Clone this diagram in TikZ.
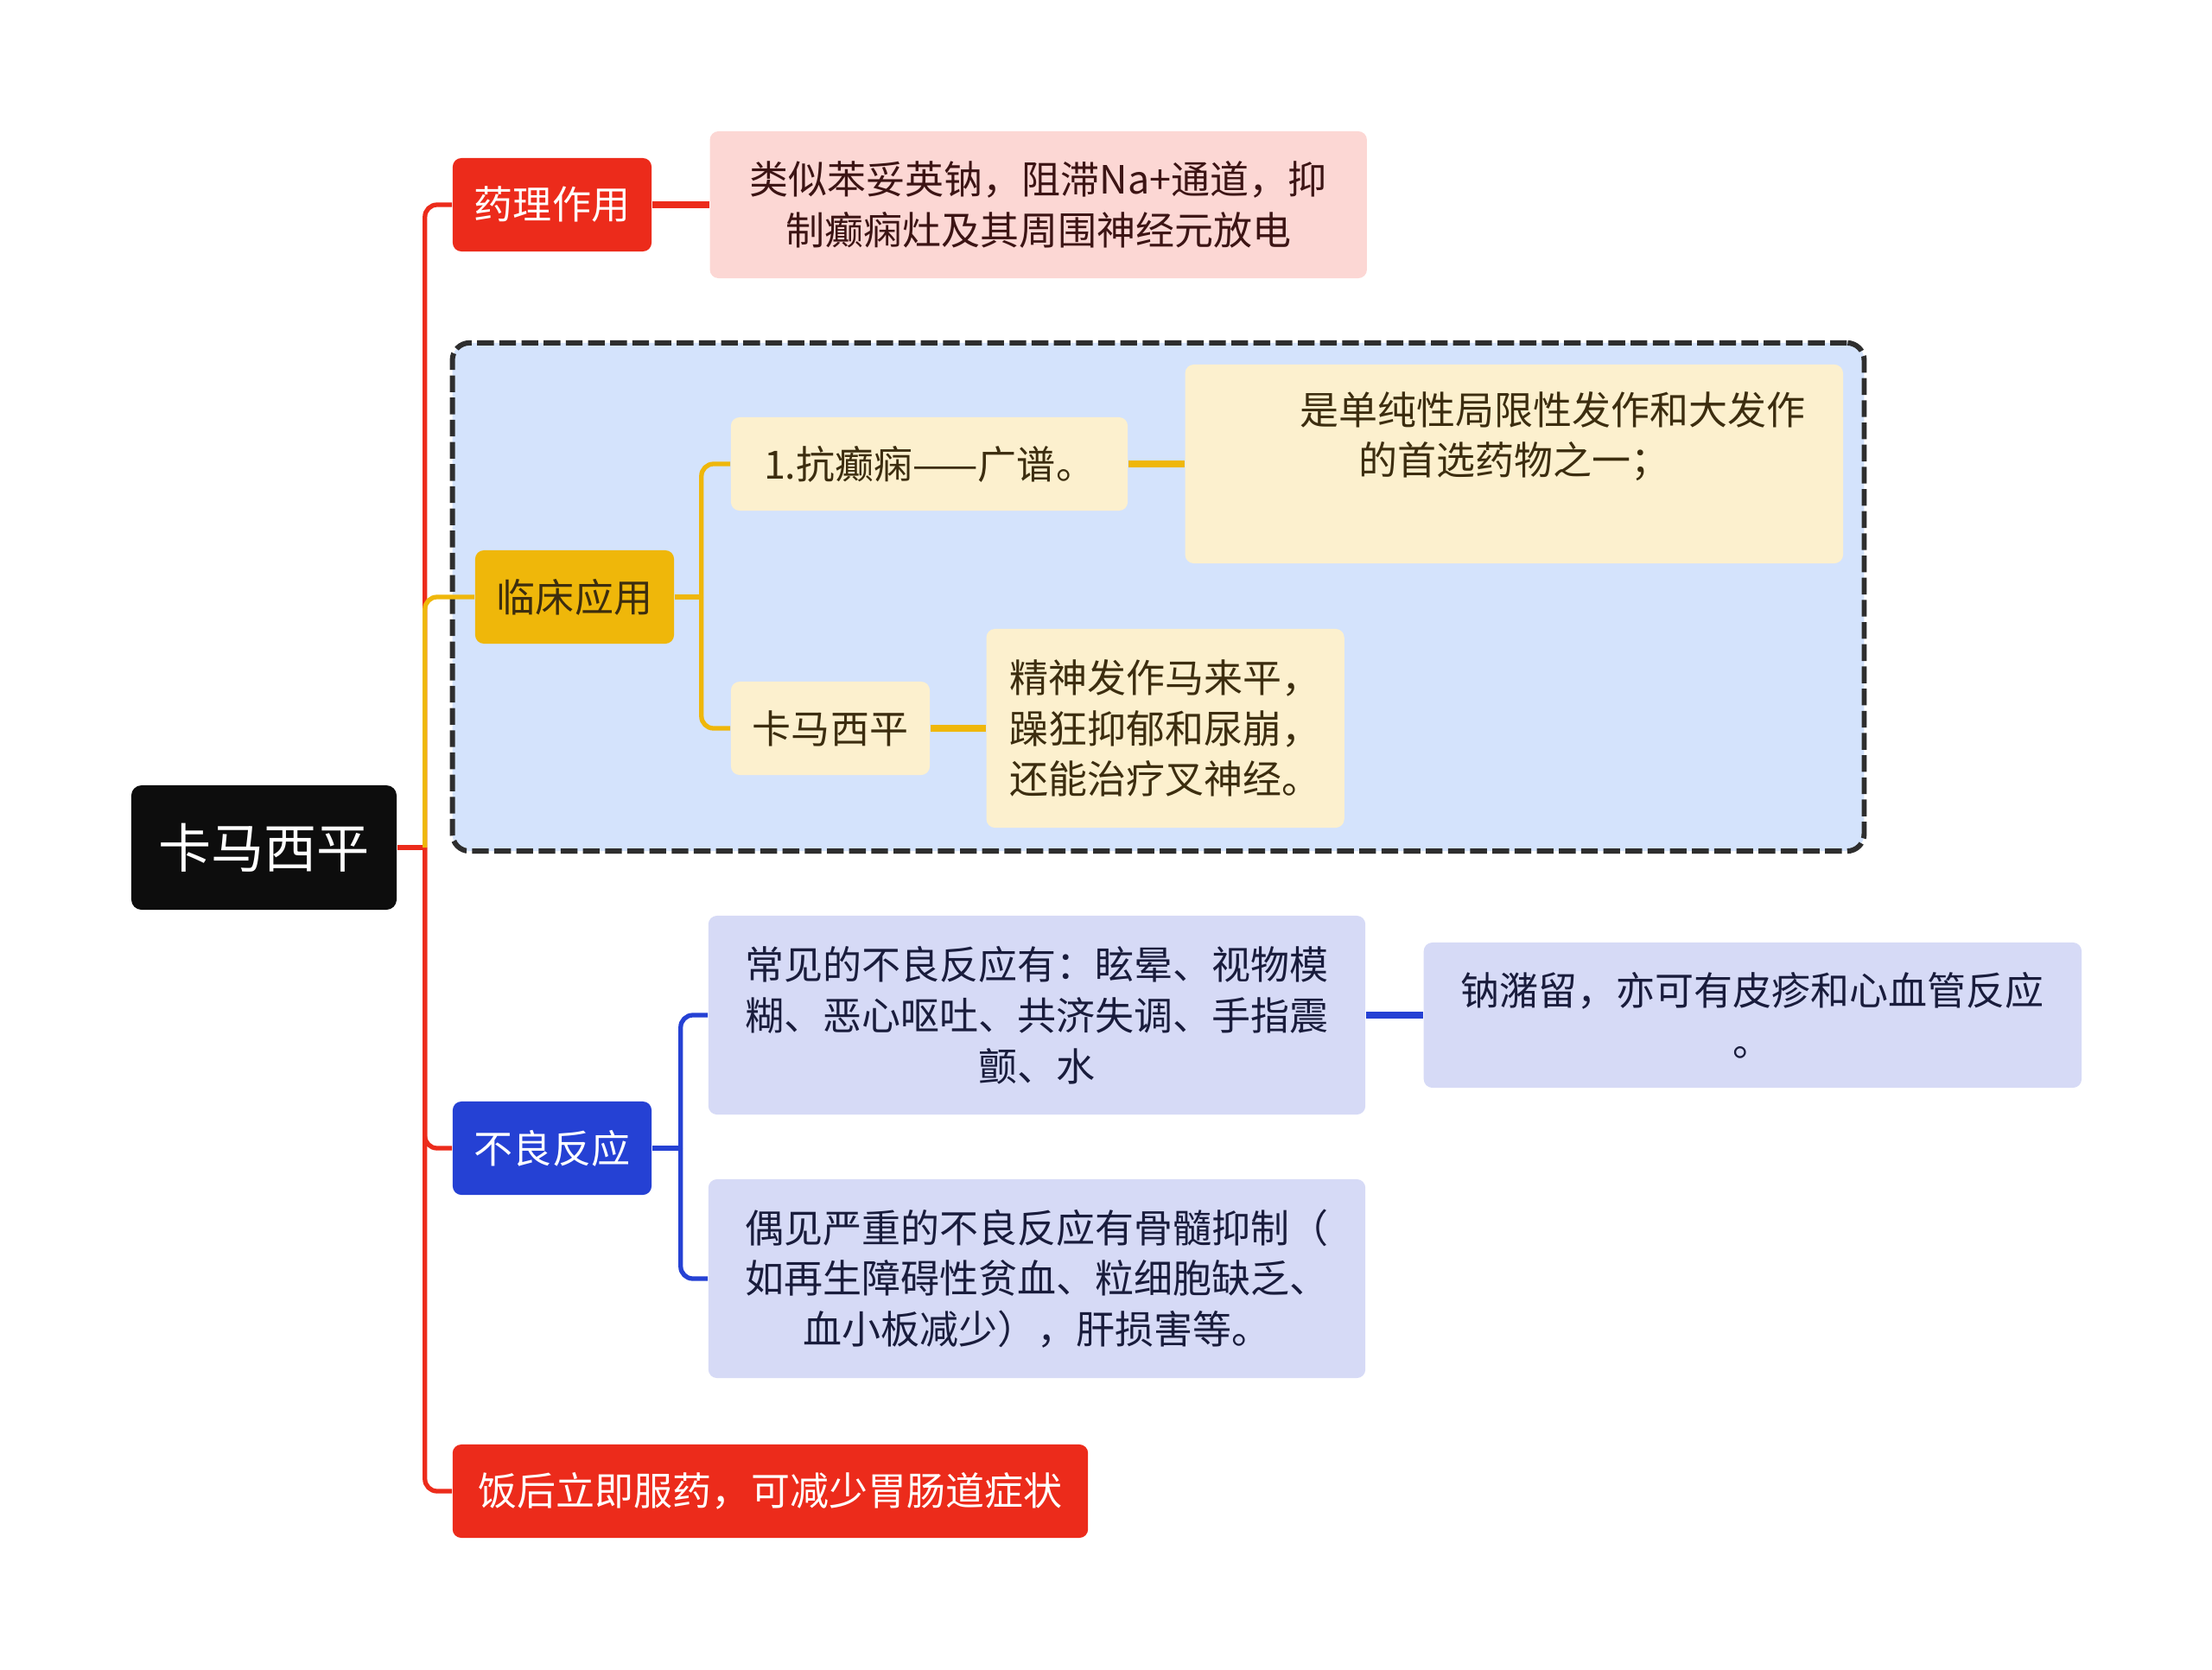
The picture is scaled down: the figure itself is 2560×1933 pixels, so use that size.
\documentclass[tikz,border=0pt]{standalone}
\usepackage{fontspec}
\setmainfont{Noto Sans CJK SC}
\definecolor{mapRed}{RGB}{236,43,27}
\definecolor{mapPink}{RGB}{252,215,212}
\definecolor{mapYellow}{RGB}{239,183,10}
\definecolor{mapCream}{RGB}{252,240,206}
\definecolor{mapBlue}{RGB}{37,65,212}
\definecolor{mapLavender}{RGB}{214,218,246}
\definecolor{groupFill}{RGB}{212,227,252}
\definecolor{rootBlack}{RGB}{13,13,13}
\definecolor{pinkText}{RGB}{60,20,20}
\definecolor{creamText}{RGB}{60,45,15}
\definecolor{lavText}{RGB}{25,28,60}
\usetikzlibrary{calc,positioning}

\begin{document}
\begin{tikzpicture}[x=0.01cm,y=-0.01cm,
          bodyFont/.style={font={\fontsize{12.8}{16.7}\selectfont}},
          rootNode/.style={
            rectangle,
            rounded corners=.12cm,
            fill=rootBlack,
            text=white,
            font={\fontsize{17.4}{21}\selectfont},
            minimum width=3.07cm,
            minimum height=1.44cm},
          topic/.style={
            rectangle,
            rounded corners=.1cm,
            bodyFont,
            align=center,
            minimum height=1.08cm},
          redTopic/.style={topic, fill=mapRed, text=white, minimum width=2.3cm},
          yellowTopic/.style={topic, fill=mapYellow, text=creamText, minimum width=2.3cm},
          blueTopic/.style={topic, fill=mapBlue, text=white, minimum width=2.3cm},
          pinkBox/.style={topic, fill=mapPink, text=pinkText},
          creamBox/.style={topic, fill=mapCream, text=creamText},
          lavBox/.style={topic, fill=mapLavender, text=lavText},
          groupFrame/.style={
            draw=black!82,
            fill=groupFill,
            line width=1.7pt,
            dash pattern=on 5.5pt off 1.8pt,
            rounded corners=.2cm},
          redLine/.style={draw=mapRed, line width=1.5pt, rounded corners=.14cm},
          yellowLine/.style={draw=mapYellow, line width=1.5pt, rounded corners=.14cm},
          blueLine/.style={draw=mapBlue, line width=1.5pt, rounded corners=.14cm},
          thickLink/.style={line width=2pt}
          ]

          \useasboundingbox (0,0) rectangle (2560,1933);

          % dashed group round the clinical use
          \node[groupFrame, minimum width=16.33cm, minimum height=5.88cm] (group) at (1340.5,691) {};

          \node[rootNode] (root) at (305.5,981) {卡马西平};

          \node[redTopic] (yaoli) at (639,237) {药理作用};
          \node[pinkBox, minimum width=7.6cm, minimum height=1.7cm, right=.66cm of yaoli] (yaoliText)
            {类似苯妥英钠，阻滞Na+通道，抑\\制癫痫灶及其周围神经元放电};

          \node[yellowTopic] (linchuang) at (665,691) {临床应用};
          \node[creamBox, minimum width=4.59cm] (kang) at (1075.5,537) {1.抗癫痫——广谱。};
          \node[creamBox, minimum width=7.61cm, minimum height=2.3cm, right=.65cm of kang] (shi) {};
          \node[bodyFont, text=creamText, align=center] (shiText) at ($(shi.north)+(0,84)$)
            {\hspace{2em}是单纯性局限性发作和大发作\\的首选药物之一；};
          \node[creamBox, minimum width=2.3cm] (kama) at (961,843) {卡马西平};
          \node[creamBox, minimum width=4.14cm, minimum height=2.3cm, align=left, right=.64cm of kama] (jingshen)
            {精神发作马来平，\\躁狂抑郁和尿崩，\\还能治疗叉神经。};

          \node[blueTopic] (buliang) at (639,1329) {不良反应};
          \node[lavBox, minimum width=7.6cm, minimum height=2.3cm] (changjian) at (1200,1175)
            {常见的不良反应有：眩晕、视物模\\糊、恶心呕吐、共济失调、手指震\\颤、水};
          \node[lavBox, minimum width=7.61cm, minimum height=1.68cm, right=.66cm of changjian] (na)
            {钠潴留，亦可有皮疹和心血管反应\\。};
          \node[lavBox, minimum width=7.6cm, minimum height=2.3cm] (oujian) at (1200,1480)
            {偶见严重的不良反应有骨髓抑制（\\如再生障碍性贫血、粒细胞缺乏、\\血小板减少），肝损害等。};

          \node[redTopic, minimum width=7.35cm] (fanhou) at (891.5,1726) {饭后立即服药，可减少胃肠道症状};

          \coordinate (trunk) at ($(root.east)+(32,0)$);
          \coordinate (lcFork) at ($(linchuang.east)+(31,0)$);
          \coordinate (blFork) at ($(buliang.east)+(33,0)$);

          \draw[redLine] (root.east) -- (trunk);
          \draw[redLine] (trunk) |- (yaoli.west);
          \draw[redLine] (trunk) |- (buliang.west);
          \draw[redLine] (trunk) |- (fanhou.west);
          \draw[yellowLine] (trunk) |- (linchuang.west);
          \draw[redLine, thickLink] (yaoli.east) -- (yaoliText.west);

          \draw[yellowLine] (linchuang.east) -- (lcFork);
          \draw[yellowLine] (lcFork) |- (kang.west);
          \draw[yellowLine] (lcFork) |- (kama.west);
          \draw[yellowLine, thickLink] (kang.east) -- (kang.east -| shi.west);
          \draw[yellowLine, thickLink] (kama.east) -- (jingshen.west);

          \draw[blueLine] (buliang.east) -- (blFork);
          \draw[blueLine] (blFork) |- (changjian.west);
          \draw[blueLine] (blFork) |- (oujian.west);
          \draw[blueLine, thickLink] (changjian.east) -- (na.west);
        \end{tikzpicture}
\end{document}
